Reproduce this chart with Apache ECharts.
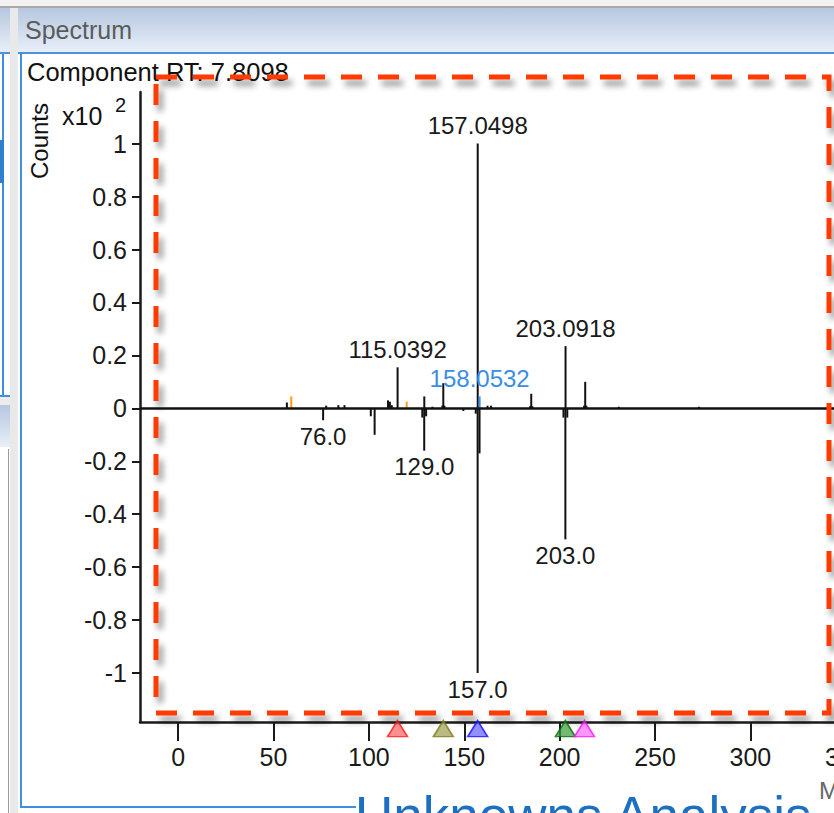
<!DOCTYPE html>
<html><head><meta charset="utf-8">
<script src="https://cdn.jsdelivr.net/npm/echarts/dist/echarts.min.js"></script>
<style>
html,body{margin:0;padding:0;width:834px;height:813px;overflow:hidden;background:#fff;}
.c{position:absolute;}
#chart{position:absolute;left:0;top:0;width:834px;height:813px;z-index:5;}
</style></head><body>
<div class="c" style="left:0;top:0;width:834px;height:6px;background:#f2f2f2"></div>
<div class="c" style="left:0;top:6px;width:834px;height:2px;background:#a8a8a8"></div>
<div class="c" style="left:0;top:8px;width:834px;height:44px;background:linear-gradient(#b6c7df,#e8eff9)"></div>
<div class="c" style="left:0;top:52px;width:834px;height:2px;background:#4a92dc"></div>
<div class="c" style="left:2px;top:54px;width:2px;height:341px;background:#3f8fe0"></div>
<div class="c" style="left:0;top:140px;width:4px;height:43px;background:#2f7fd0"></div>
<div class="c" style="left:0;top:395px;width:10px;height:2px;background:#3f8fe0"></div>
<div class="c" style="left:0;top:397px;width:10px;height:8px;background:#ececec"></div>
<div class="c" style="left:0;top:405px;width:10px;height:42px;background:linear-gradient(#b6c7df,#e8eff9)"></div>
<div class="c" style="left:8px;top:449px;width:1px;height:364px;background:#9a9a9a"></div>
<div class="c" style="left:10px;top:8px;width:8px;height:805px;background:#e9e9e9"></div>
<div class="c" style="left:18px;top:8px;width:816px;height:44px;background:linear-gradient(#b6c7df,#e8eff9)"></div>
<div class="c" style="left:18px;top:52px;width:816px;height:2px;background:#4a92dc"></div>
<div class="c" style="left:20px;top:54px;width:2px;height:754px;background:#3f8fe0"></div>
<div class="c" style="left:20px;top:806px;width:336px;height:2px;background:#3f8fe0"></div>
<div id="chart"></div>
<script>
// ---- data ----
const upMz  = [57.0, 77.6, 84.0, 87.2, 110.0, 111.0, 112.0, 115.0392, 129.04, 133.3, 138.5, 139.0, 139.6, 157.0498, 162.2, 164.0, 184.5, 185.1, 185.7, 203.0918, 212.8, 213.4, 214.0, 231.0, 273.0];
const upInt = [0.022, 0.01, 0.012, 0.012, 0.03, 0.025, 0.012, 0.155, 0.045, 0.006, 0.01, 0.095, 0.01, 1.0, 0.01, 0.01, 0.008, 0.055, 0.008, 0.235, 0.01, 0.1, 0.01, 0.006, 0.006];
const upLabelled = [115.0392, 157.0498, 203.0918];
const orangeMz  = [59.3, 119.8];
const orangeInt = [0.045, 0.025];
const blueMz  = [158.0532];
const blueInt = [0.045];
const downMz  = [76.0, 101.0, 103.0, 128.0, 129.0, 130.0, 149.5, 156.0, 157.0, 158.0, 202.0, 203.0, 204.0];
const downInt = [-0.045, -0.03, -0.1, -0.035, -0.16, -0.03, -0.01, -0.02, -1.0, -0.17, -0.035, -0.495, -0.035];
const downLabelled = [76.0, 129.0, 157.0, 203.0];
const markerMz = [115, 139, 157, 203, 213];
const xTicks = [0, 50, 100, 150, 200, 250, 300, 350];
const yTicks = [-1, -0.8, -0.6, -0.4, -0.2, 0, 0.2, 0.4, 0.6, 0.8, 1];

// ---- build stick list ----
const sticks = [];
upMz.forEach((m, i) => sticks.push({mz: m, v: upInt[i], kind: 'black', label: upLabelled.includes(m) ? m.toFixed(4) : ''}));
orangeMz.forEach((m, i) => sticks.push({mz: m, v: orangeInt[i], kind: 'orange', label: ''}));
blueMz.forEach((m, i) => sticks.push({mz: m, v: blueInt[i], kind: 'blue', label: m.toFixed(4)}));
downMz.forEach((m, i) => sticks.push({mz: m, v: downInt[i], kind: 'black', label: downLabelled.includes(m) ? m.toFixed(1) : ''}));

const stickColor = {black: '#111111', orange: '#ff9a1a', blue: '#3a8ff0'};
const labelColor = {black: '#1a1a1a', orange: '#ff9a1a', blue: '#3a8ee6'};
const markerStyle = [
  {color: 'rgba(255,90,90,0.85)', borderColor: '#ff1a1a'},
  {color: 'rgba(160,160,80,0.9)', borderColor: '#7a7a20'},
  {color: 'rgba(100,100,255,0.9)', borderColor: '#1010ff'},
  {color: 'rgba(60,160,60,0.9)', borderColor: '#0a6a0a'},
  {color: 'rgba(255,110,255,0.9)', borderColor: '#ff10ff'}
];
const MARKER_Y = -1.21;
const FONT = 'Arial, "Liberation Sans", sans-serif';

const chart = echarts.init(document.getElementById('chart'), null, {renderer: 'svg'});
chart.setOption({
  backgroundColor: 'transparent',
  animation: false,
  grid: {left: 140, top: 92, width: 763, height: 630, containLabel: false, outerBoundsMode: 'none'},
  xAxis: {
    type: 'value', min: -20, max: 380,
    axisLine: {show: true, onZero: false, lineStyle: {color: '#1a1a1a', width: 2.5}},
    axisTick: {show: true, length: 19, customValues: xTicks, lineStyle: {color: '#1a1a1a', width: 2}},
    axisLabel: {show: true, customValues: xTicks, color: '#1a1a1a', fontSize: 25, fontFamily: FONT, margin: 22},
    splitLine: {show: false}
  },
  yAxis: {
    type: 'value', min: -1.185, max: 1.195,
    axisLine: {show: true, onZero: false, lineStyle: {color: '#1a1a1a', width: 2.5}},
    axisTick: {show: true, length: 8, customValues: yTicks, lineStyle: {color: '#1a1a1a', width: 2}},
    axisLabel: {show: true, customValues: yTicks, color: '#1a1a1a', fontSize: 25, fontFamily: FONT, margin: 13},
    splitLine: {show: false}
  },
  series: [
    {
      type: 'line', data: [], silent: true,
      markLine: {silent: true, symbol: 'none', label: {show: false},
        lineStyle: {color: '#111', width: 2.5, type: 'solid'}, data: [{yAxis: 0}]}
    },
    {
      type: 'custom',
      data: sticks.map(s => [s.mz, s.v]),
      clip: false,
      renderItem: function (params, api) {
        const s = sticks[params.dataIndex];
        const p0 = api.coord([api.value(0), 0]);
        const p1 = api.coord([api.value(0), api.value(1)]);
        const children = [{
          type: 'line',
          shape: {x1: p0[0], y1: p0[1], x2: p1[0], y2: p1[1]},
          style: {stroke: stickColor[s.kind], lineWidth: 2}
        }];
        if (s.label) {
          children.push({
            type: 'text',
            x: p1[0], y: p1[1] + (s.v > 0 ? -18 : 16),
            style: {text: s.label, fill: labelColor[s.kind], font: '24px ' + FONT, align: 'center', verticalAlign: 'middle'}
          });
        }
        return {type: 'group', children: children};
      }
    },
    {
      type: 'scatter', clip: false, symbol: 'triangle', symbolSize: [20, 16],
      data: markerMz.map((m, i) => ({value: [m, MARKER_Y], itemStyle: Object.assign({borderWidth: 1.5}, markerStyle[i])})),
      z: 3
    }
  ],
  graphic: [
    {type: 'text', x: 25, y: 30, style: {text: 'Spectrum', font: '25px ' + FONT, fill: '#5b5b5b', verticalAlign: 'middle'}},
    {type: 'text', x: 27, y: 72, style: {text: 'Component RT: 7.8098', font: '25.5px ' + FONT, fill: '#111', verticalAlign: 'middle'}},
    {type: 'text', x: 27, y: 179, rotation: Math.PI / 2, style: {text: 'Counts', font: '24px ' + FONT, fill: '#111', align: 'left', verticalAlign: 'top'}},
    {type: 'text', x: 62, y: 116, style: {text: 'x10', font: '25px ' + FONT, fill: '#111', verticalAlign: 'middle'}},
    {type: 'text', x: 115, y: 105, style: {text: '2', font: '20px ' + FONT, fill: '#111', verticalAlign: 'middle'}},
    {type: 'text', x: 819, y: 790, style: {text: 'Mass-to-Charge (m/z)', font: '24px ' + FONT, fill: '#666', verticalAlign: 'middle'}},
    {type: 'text', x: 355, y: 789, style: {text: 'Unknowns Analysis', font: '53px ' + FONT, fill: '#1c6fc1', verticalAlign: 'top'}},
    {type: 'rect', z: 100, shape: {x: 156, y: 77, width: 673, height: 636},
      style: {fill: 'none', stroke: '#ff3a00', lineWidth: 5, lineDash: [21, 16],
        shadowBlur: 6, shadowColor: 'rgba(0,0,0,0.45)', shadowOffsetX: 4, shadowOffsetY: 6}}
  ]
});
</script>
</body></html>
